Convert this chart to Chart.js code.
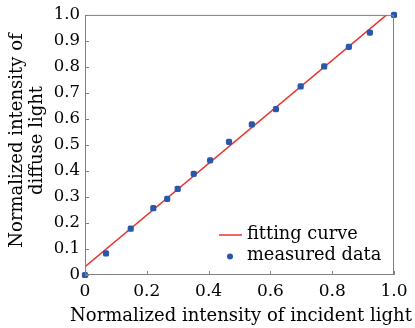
<!DOCTYPE html>
<html>
<head>
<meta charset="utf-8">
<script src="https://cdn.jsdelivr.net/npm/chart.js@4.4.0/dist/chart.umd.min.js"></script>
<style>
html,body{margin:0;padding:0;background:#fff;}
#wrap{width:415px;height:328px;}
</style>
</head>
<body>
<div id="wrap"><canvas id="c" width="415" height="328"></canvas></div>
<script>
const measuredX = [0, 0.068, 0.148, 0.221, 0.266, 0.300, 0.352, 0.405, 0.466, 0.540, 0.618, 0.698, 0.774, 0.854, 0.922, 1.0];
const measuredY = [0, 0.083, 0.178, 0.257, 0.293, 0.331, 0.389, 0.441, 0.512, 0.579, 0.638, 0.725, 0.802, 0.877, 0.932, 1.0];
const fitX = [0, 0.976];
const fitY = [0.032, 1.0];
const tickValues = [0, 0.1, 0.2, 0.3, 0.4, 0.5, 0.6, 0.7, 0.8, 0.9, 1.0];
const xTickValues = [0, 0.2, 0.4, 0.6, 0.8, 1.0];
const legendLabels = ['fitting curve', 'measured data'];
const xTitle = 'Normalized intensity of incident light';
const yTitle = ['Normalized intensity of', 'diffuse light'];

const FONT = "'DejaVu Serif', 'Liberation Serif', serif";
const RED = '#e8322c';
const BLUE = '#2b57a8';
const FRAME = '#808080';
const TXT = '#000';

function fmt(v){ return v === 0 ? '0' : v.toFixed(1); }

const framePlugin = {
  id: 'frame',
  afterDatasetsDraw(chart){
    const {ctx, chartArea:a, scales} = chart;
    ctx.save();
    ctx.strokeStyle = FRAME;
    ctx.lineWidth = 1;
    ctx.strokeRect(a.left + 0.5, a.top + 0.5, a.right - a.left - 1, a.bottom - a.top - 1);
    ctx.beginPath();
    tickValues.forEach(v => {
      const y = Math.round(scales.y.getPixelForValue(v)) + 0.5;
      ctx.moveTo(a.left, y); ctx.lineTo(a.left + 4, y);
    });
    xTickValues.forEach(v => {
      const x = Math.round(scales.x.getPixelForValue(v)) + 0.5;
      ctx.moveTo(x, a.bottom); ctx.lineTo(x, a.bottom - 4);
    });
    ctx.stroke();
    // legend
    ctx.font = '17.8px ' + FONT;
    ctx.fillStyle = TXT;
    ctx.textBaseline = 'middle';
    ctx.strokeStyle = RED;
    ctx.lineWidth = 1.5;
    ctx.beginPath();
    ctx.moveTo(219, 235); ctx.lineTo(242, 235);
    ctx.stroke();
    ctx.fillText(legendLabels[0], 247, 234);
    ctx.fillStyle = BLUE;
    ctx.beginPath();
    ctx.arc(230, 256.5, 3, 0, Math.PI * 2);
    ctx.fill();
    ctx.fillStyle = TXT;
    ctx.fillText(legendLabels[1], 247, 255);
    // axis titles
    ctx.font = '18px ' + FONT;
    ctx.textBaseline = 'alphabetic';
    ctx.textAlign = 'center';
    ctx.fillText(xTitle, 241, 321);
    ctx.translate(0, 140.5);
    ctx.rotate(-Math.PI / 2);
    ctx.fillText(yTitle[0], 0, 22);
    ctx.fillText(yTitle[1], 0, 42);
    ctx.restore();
  }
};

new Chart(document.getElementById('c'), {
  type: 'scatter',
  data: {
    datasets: [
      {
        type: 'line',
        label: legendLabels[0],
        data: fitX.map((x, i) => ({x, y: fitY[i]})),
        borderColor: RED,
        borderWidth: 1.5,
        pointRadius: 0,
        fill: false,
        order: 2
      },
      {
        label: legendLabels[1],
        data: measuredX.map((x, i) => ({x, y: measuredY[i]})),
        backgroundColor: BLUE,
        borderColor: BLUE,
        pointStyle: 'rectRounded',
        pointRadius: 3.6,
        borderWidth: 0,
        clip: false,
        order: 1
      }
    ]
  },
  options: {
    responsive: false,
    animation: false,
    layout: { padding: { top: 12, right: 21, left: 0, bottom: 0 } },
    plugins: { legend: { display: false }, tooltip: { enabled: false } },
    scales: {
      x: {
        type: 'linear', min: 0, max: 1,
        afterBuildTicks(s){ s.ticks = xTickValues.map(v => ({value: v})); },
        afterFit(s){ s.height = 53; },
        grid: { display: false, drawTicks: false },
        border: { display: false },
        ticks: { color: TXT, font: { family: FONT, size: 17 }, padding: 6, callback: v => fmt(v), maxRotation: 0, autoSkip: false },
        title: { display: false }
      },
      y: {
        type: 'linear', min: 0, max: 1,
        afterBuildTicks(s){ s.ticks = tickValues.map(v => ({value: v})); },
        afterFit(s){ s.width = 85; },
        grid: { display: false, drawTicks: false },
        border: { display: false },
        ticks: { color: TXT, font: { family: FONT, size: 16.5 }, padding: 5, callback: v => fmt(v), autoSkip: false },
        title: { display: false }
      }
    }
  },
  plugins: [framePlugin]
});
</script>
</body>
</html>
